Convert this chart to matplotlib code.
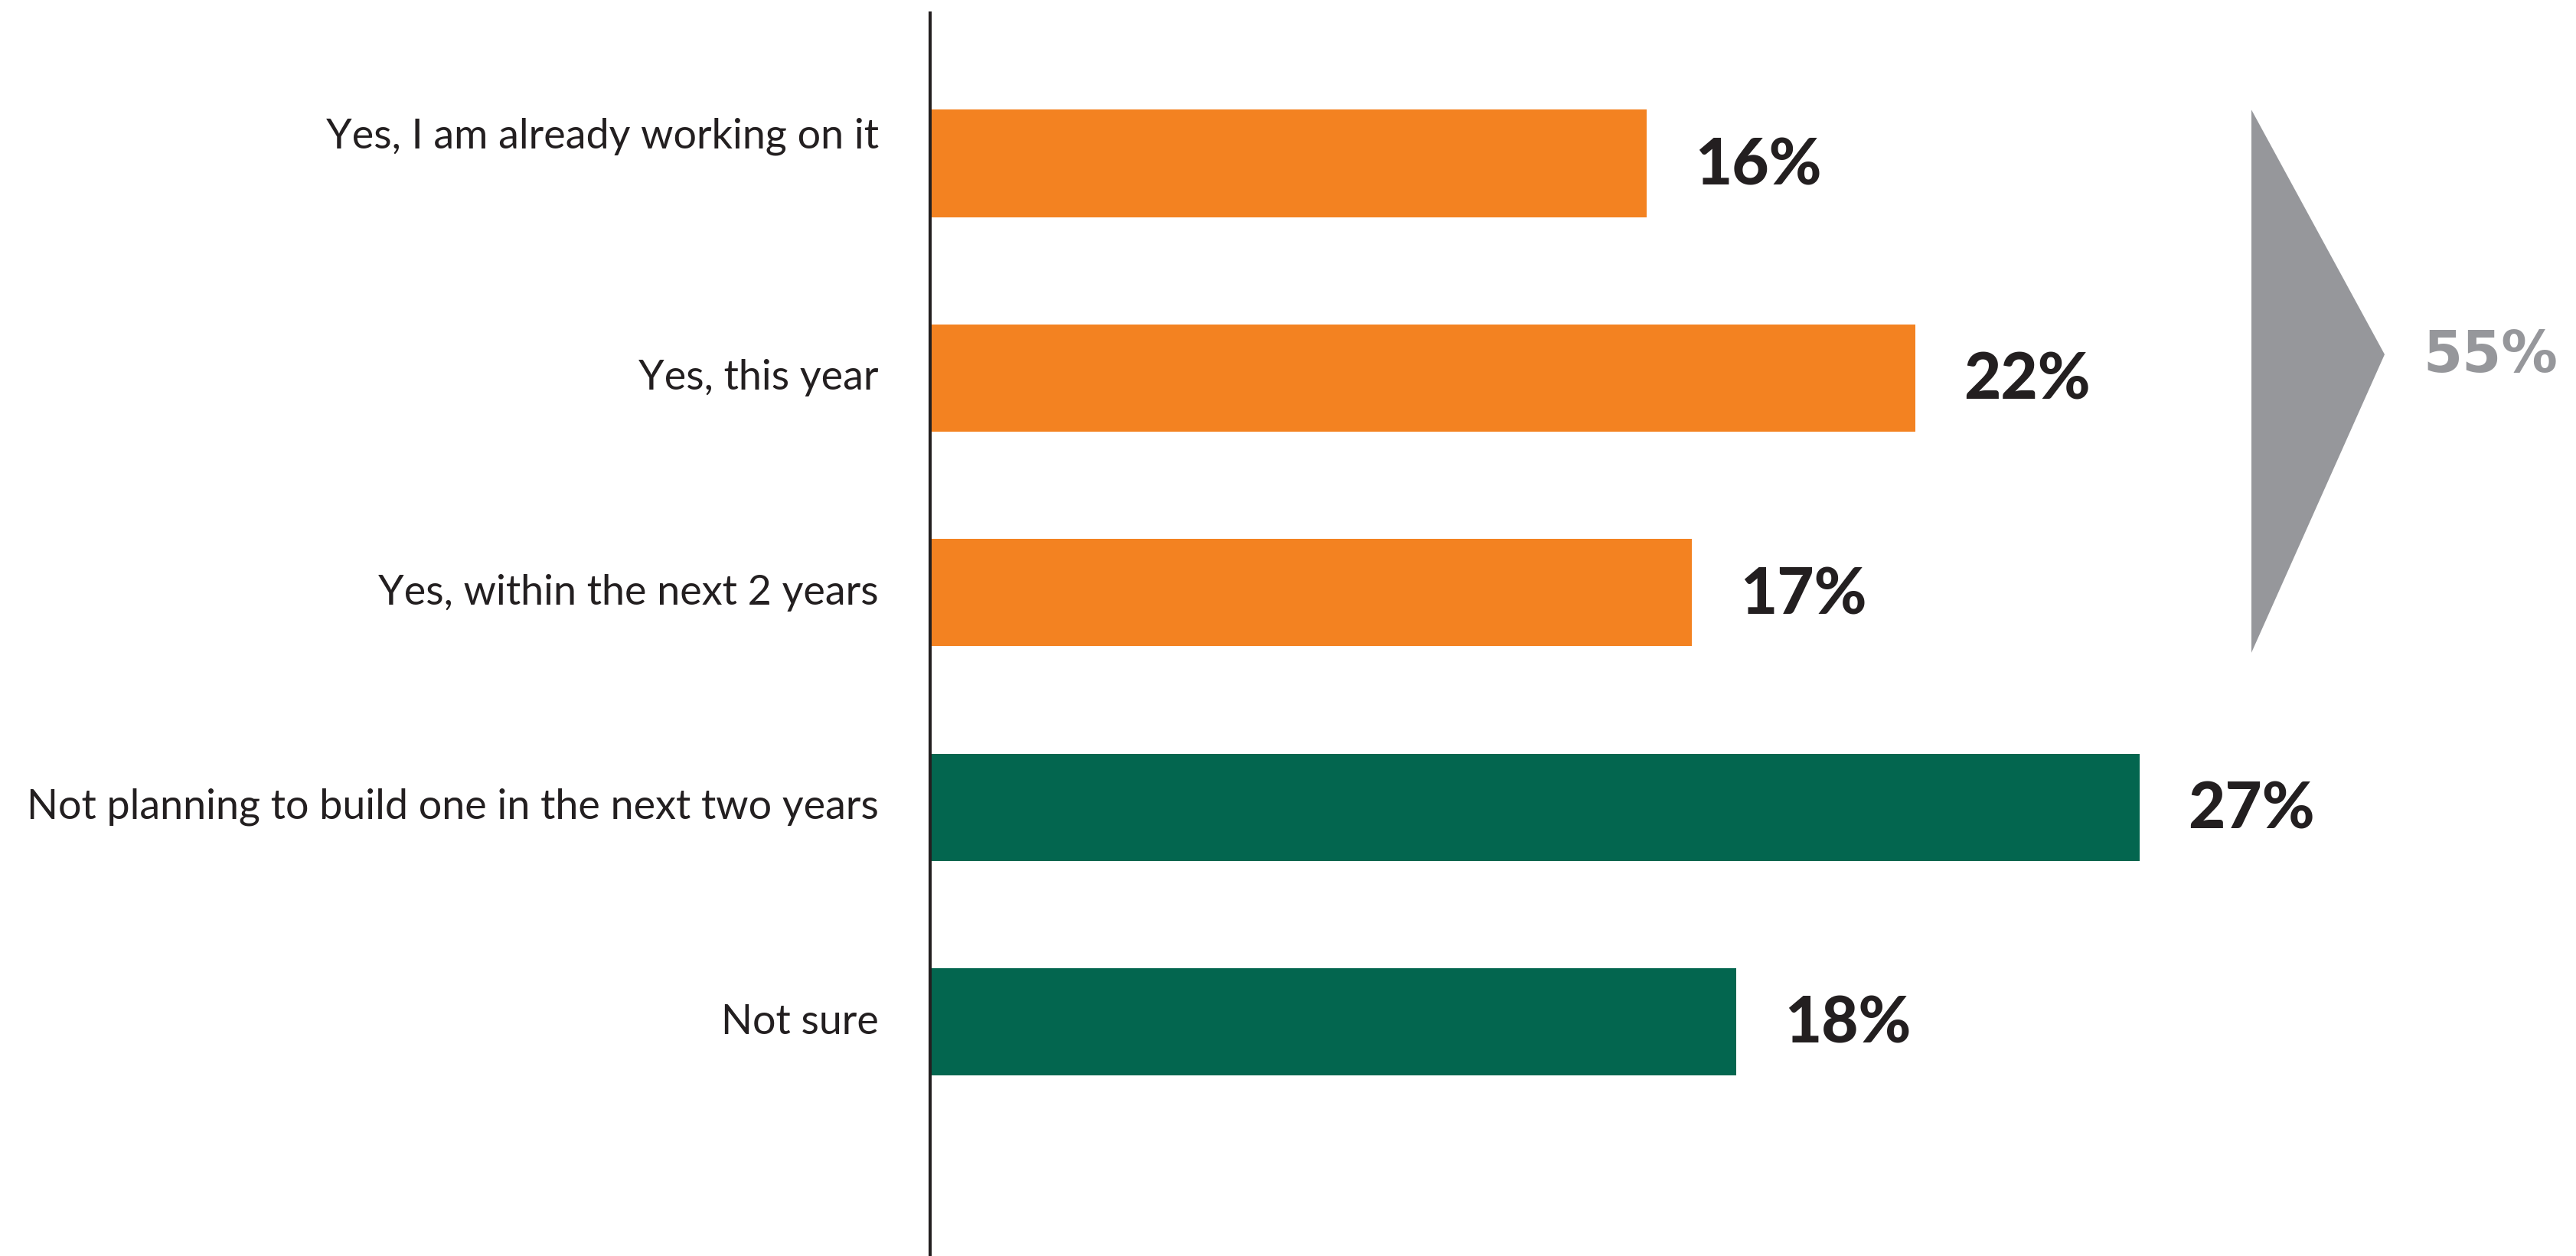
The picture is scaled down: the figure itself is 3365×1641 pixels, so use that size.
import matplotlib
matplotlib.use("Agg")
import matplotlib.pyplot as plt
from matplotlib.patches import Polygon

# ---- data ----
categories = [
    "Yes, I am already working on it",
    "Yes, this year",
    "Yes, within the next 2 years",
    "Not planning to build one in the next two years",
    "Not sure",
]
values = [16, 22, 17, 27, 18]
groups = ["yes", "yes", "yes", "no", "no"]
group_colors = {"yes": "#F38221", "no": "#03664F"}
value_labels = [f"{v}%" for v in values]
yes_total = sum(v for v, g in zip(values, groups) if g == "yes")
total_label = f"{yes_total}%"

# ---- layout ----
W, H, DPI = 3365, 1641, 100
fig = plt.figure(figsize=(W / DPI, H / DPI), dpi=DPI)
fig.patch.set_facecolor("white")

ax_left_px = 1215
ax_top_px = 17
px_per_unit = 58.5
xmax = (W - ax_left_px) / px_per_unit
ax = fig.add_axes([ax_left_px / W, 0, (W - ax_left_px) / W, (H - ax_top_px) / H])

y0_px, dy_px = 213.5, 280.4
ytop = (ax_top_px - y0_px) / dy_px
ybot = (H - y0_px) / dy_px
ax.set_xlim(0, xmax)
ax.set_ylim(ybot, ytop)

text_color = "#231F20"
bar_h = 0.5
ypos = list(range(len(categories)))
ax.barh(ypos, values, height=bar_h,
        color=[group_colors[g] for g in groups], edgecolor="none", zorder=2)

# category labels
label_dy = [-0.125, 0, 0, 0, 0]
for y, c, d in zip(ypos, categories, label_dy):
    ax.text(-67 / px_per_unit, y + d, c, ha="right", va="center",
            fontsize=38.8, family=["Lato", "DejaVu Sans"], color=text_color,
            clip_on=False)

# value labels
for y, v, lab in zip(ypos, values, value_labels):
    ax.text(v + 1.08, y + 0.012, lab, ha="left", va="center",
            fontsize=60, fontweight="black", family=["Lato", "DejaVu Sans"],
            color=text_color)

# summary arrow for the "yes" group
yes_idx = [i for i, g in enumerate(groups) if g == "yes"]
tri_x0 = (2941 - ax_left_px) / px_per_unit
tri_x1 = (3115 - ax_left_px) / px_per_unit
tri_top = min(yes_idx) - bar_h / 2
tri_bot = max(yes_idx) + bar_h / 2 + 0.03
tri_tip = 0.89
ax.add_patch(Polygon([[tri_x0, tri_top], [tri_x1, tri_tip], [tri_x0, tri_bot]],
                     closed=True, facecolor="#96979B", edgecolor="none", zorder=2))
ax.text((3165 - ax_left_px) / px_per_unit, 0.90, total_label, ha="left", va="center",
        fontsize=53, fontweight="bold", family=["DejaVu Sans"], color="#96979B")

# axes styling
for s in ["top", "right", "bottom"]:
    ax.spines[s].set_visible(False)
ax.spines["left"].set_linewidth(2.9)
ax.spines["left"].set_color(text_color)
ax.set_xticks([])
ax.set_yticks([])
ax.set_facecolor("none")

fig.savefig("out.png", dpi=DPI, facecolor="white")
